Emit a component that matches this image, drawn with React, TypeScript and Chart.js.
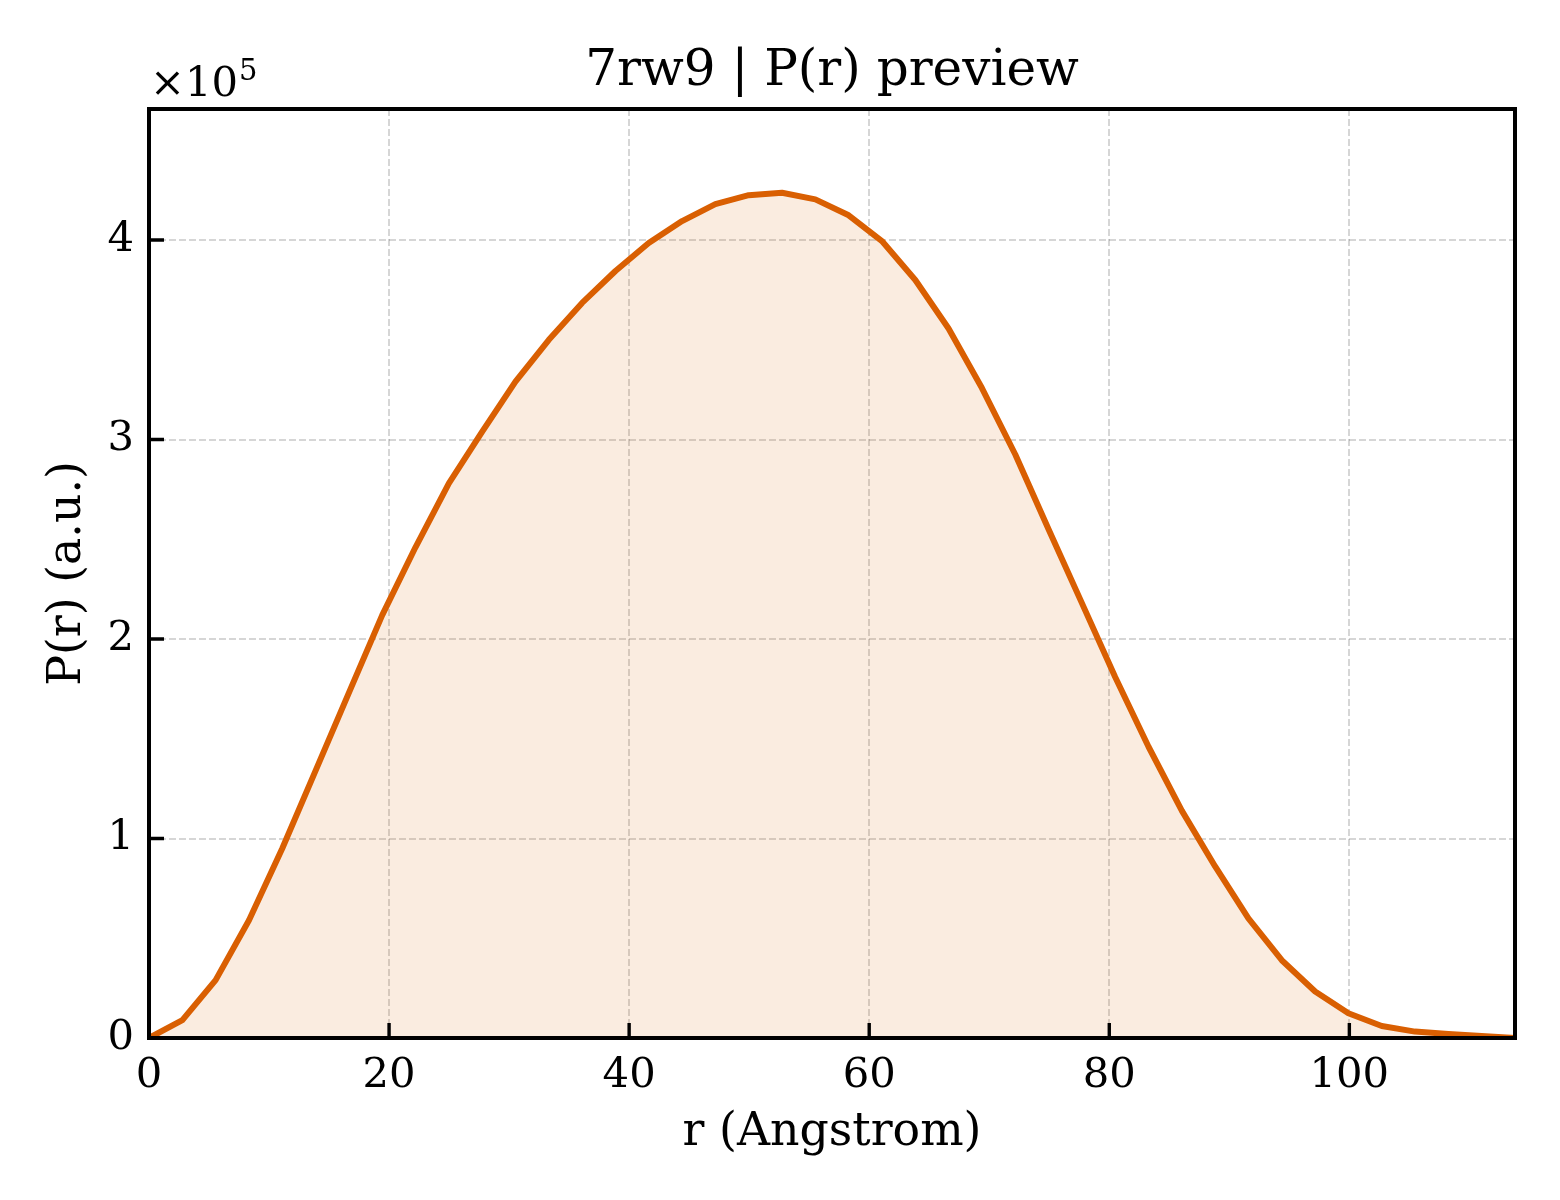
import React, { useEffect, useRef } from "react";
import { Chart, registerables } from "chart.js";

Chart.register(...registerables);

// r in Angstrom
const rAngstrom = [
  0, 2.78, 5.55, 8.33, 11.1, 13.88, 16.65, 19.43, 22.2, 24.98,
  27.76, 30.53, 33.31, 36.08, 38.86, 41.63, 44.41, 47.18, 49.96, 52.74,
  55.51, 58.29, 61.06, 63.84, 66.61, 69.39, 72.17, 74.94, 77.72, 80.49,
  83.27, 86.04, 88.82, 91.59, 94.37, 97.15, 99.92, 102.7, 105.47, 108.25,
  111.02, 113.8,
];

// P(r) in units of 1e5
const prScaled = [
  0, 0.09, 0.29, 0.59, 0.95, 1.34, 1.73, 2.12, 2.46, 2.78,
  3.04, 3.29, 3.5, 3.685, 3.845, 3.985, 4.095, 4.18, 4.225, 4.237,
  4.204, 4.124, 3.995, 3.8, 3.557, 3.258, 2.925, 2.55, 2.18, 1.81,
  1.46, 1.14, 0.86, 0.6, 0.39, 0.233, 0.124, 0.06, 0.032, 0.02,
  0.01, 0,
];

const xTickValues = [0, 20, 40, 60, 80, 100];
const yTickValues = [0, 1, 2, 3, 4];
const xMax = 113.8;
const yMax = 4.657;

const titleText = "7rw9 | P(r) preview";
const xLabelText = "r (Angstrom)";
const yLabelText = "P(r) (a.u.)";
const offsetBase = "×10";
const offsetExp = "5";

const W = 1560;
const H = 1200;
const AREA = { left: 149, top: 109, right: 1515, bottom: 1038 };
const FONT = "'DejaVu Serif', serif";
const LINE = "#d95f02";
const FILL = "rgba(217,95,2,0.12)";
const GRID = "rgba(0,0,0,0.16)";

const decor = {
  id: "decor",
  afterDraw(chart: any) {
    const ctx = chart.ctx;
    const { left, right, top, bottom } = chart.chartArea;
    const xs = chart.scales.x;
    const ys = chart.scales.y;
    ctx.save();
    // spines
    ctx.strokeStyle = "#000";
    ctx.lineWidth = 4;
    ctx.strokeRect(left, top, right - left, bottom - top);
    // inward ticks
    ctx.lineWidth = 3.4;
    ctx.beginPath();
    xTickValues.forEach((v) => {
      const px = xs.getPixelForValue(v);
      ctx.moveTo(px, bottom);
      ctx.lineTo(px, bottom - 15);
    });
    yTickValues.forEach((v) => {
      const py = ys.getPixelForValue(v);
      ctx.moveTo(left, py);
      ctx.lineTo(left + 15, py);
    });
    ctx.stroke();
    // title
    ctx.fillStyle = "#000";
    ctx.textAlign = "center";
    ctx.textBaseline = "alphabetic";
    ctx.font = `50px ${FONT}`;
    ctx.fillText(titleText, (left + right) / 2, 85);
    // x label
    ctx.font = `45.8px ${FONT}`;
    ctx.fillText(xLabelText, (left + right) / 2, 1145);
    // y label
    ctx.save();
    ctx.translate(80, (top + bottom) / 2);
    ctx.rotate(-Math.PI / 2);
    ctx.fillText(yLabelText, 0, 0);
    ctx.restore();
    // offset text
    ctx.textAlign = "left";
    ctx.font = `41.7px ${FONT}`;
    ctx.fillText(offsetBase, 150, 96);
    const w = ctx.measureText(offsetBase).width;
    ctx.font = `29px ${FONT}`;
    ctx.fillText(offsetExp, 150 + w + 1, 80);
    ctx.restore();
  },
};

export default function App() {
  const ref = useRef<HTMLCanvasElement | null>(null);
  useEffect(() => {
    const canvas = ref.current;
    if (!canvas) return;
    const chart = new Chart(canvas, {
      type: "line",
      data: {
        datasets: [
          {
            data: rAngstrom.map((r, i) => ({ x: r, y: prScaled[i] })),
            borderColor: LINE,
            backgroundColor: FILL,
            borderWidth: 6,
            fill: "origin",
            pointRadius: 0,
            tension: 0,
            borderJoinStyle: "round",
            borderCapStyle: "round",
          },
        ],
      },
      options: {
        responsive: false,
        animation: false,
        devicePixelRatio: 1,
        layout: { padding: { left: 0, top: AREA.top, right: W - AREA.right, bottom: 0 } },
        plugins: {
          legend: { display: false },
          tooltip: { enabled: false },
          title: { display: false },
        },
        scales: {
          x: {
            type: "linear",
            min: 0,
            max: xMax,
            afterBuildTicks: (s: any) => {
              s.ticks = xTickValues.map((v) => ({ value: v }));
            },
            afterFit: (s: any) => {
              s.height = H - AREA.bottom;
            },
            grid: { color: GRID, lineWidth: 2, drawTicks: false },
            border: { display: false, dash: [7, 3] },
            ticks: {
              autoSkip: false,
              maxRotation: 0,
              padding: 13,
              color: "#000",
              font: { family: FONT, size: 41.7 },
              callback: (v: any) => String(v),
            },
          },
          y: {
            type: "linear",
            min: 0,
            max: yMax,
            afterBuildTicks: (s: any) => {
              s.ticks = yTickValues.map((v) => ({ value: v }));
            },
            afterFit: (s: any) => {
              s.width = AREA.left;
            },
            grid: { color: GRID, lineWidth: 2, drawTicks: false },
            border: { display: false, dash: [7, 3] },
            ticks: {
              autoSkip: false,
              padding: 15,
              color: "#000",
              font: { family: FONT, size: 41.7 },
              callback: (v: any) => String(v),
            },
          },
        },
      },
      plugins: [decor],
    } as any);
    return () => chart.destroy();
  }, []);
  return (
    <div style={{ position: "absolute", left: 0, top: 0, width: W, height: H, background: "#fff" }}>
      <canvas ref={ref} width={W} height={H} style={{ width: W, height: H, display: "block" }} />
    </div>
  );
}
